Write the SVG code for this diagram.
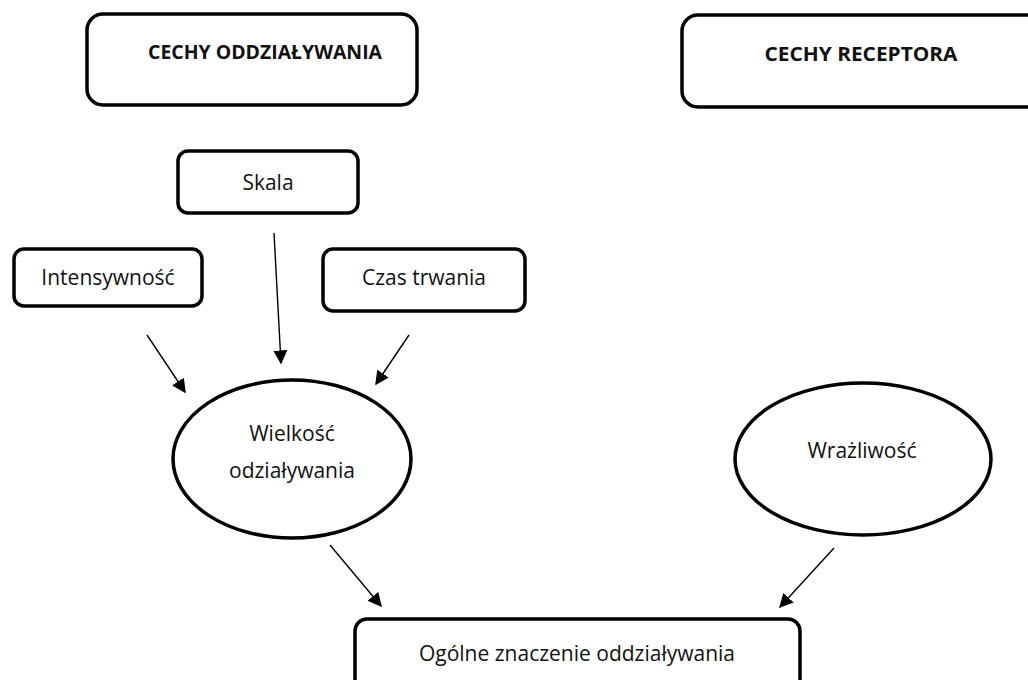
<svg xmlns="http://www.w3.org/2000/svg" width="1028" height="680" viewBox="0 0 1028 680">
<style>
.box{fill:#fff;stroke:#000;stroke-width:3.5}
.t{font-family:"Open Sans","Noto Sans",sans-serif;font-size:21px;fill:#111;text-anchor:middle}
.b{font-weight:bold;font-size:20px}
.c{stroke:#000;stroke-width:1.4;fill:none;marker-end:url(#ah)}
</style>
<defs>
<marker id="ah" viewBox="0 0 10 10" refX="9" refY="5" markerWidth="14" markerHeight="14" markerUnits="userSpaceOnUse" orient="auto">
<path d="M0,0 L10,5 L0,10 z" fill="#000"/>
</marker>
</defs>
<rect width="1028" height="680" fill="#fff"/>
<g id="cechy-oddzialywania">
<rect class="box" x="87" y="14" width="330" height="91" rx="16"/>
<text class="t b" x="265" y="59" textLength="234" lengthAdjust="spacingAndGlyphs">CECHY ODDZIAŁYWANIA</text>
</g>
<g id="cechy-receptora">
<rect class="box" x="682" y="15" width="380" height="92" rx="16"/>
<text class="t b" x="861" y="61" textLength="193" lengthAdjust="spacingAndGlyphs">CECHY RECEPTORA</text>
</g>
<g id="skala">
<rect class="box" x="178" y="151" width="180" height="62" rx="10"/>
<text class="t" x="268" y="190">Skala</text>
</g>
<g id="intensywnosc">
<rect class="box" x="14" y="249" width="188" height="57" rx="10"/>
<text class="t" x="108" y="285">Intensywność</text>
</g>
<g id="czas-trwania">
<rect class="box" x="323" y="249" width="202" height="62" rx="10"/>
<text class="t" x="424" y="285">Czas trwania</text>
</g>
<g id="wielkosc">
<ellipse class="box" cx="292" cy="459" rx="119" ry="79"/>
<text class="t" x="292" y="441">Wielkość</text>
<text class="t" x="292" y="478">odziaływania</text>
</g>
<g id="wrazliwosc">
<ellipse class="box" cx="863" cy="459" rx="128" ry="76"/>
<text class="t" x="862" y="458">Wrażliwość</text>
</g>
<g id="ogolne">
<rect class="box" x="355" y="619" width="445" height="80" rx="12"/>
<text class="t" x="577" y="661">Ogólne znaczenie oddziaływania</text>
</g>
<g id="connectors">
<line class="c" x1="147" y1="335" x2="185" y2="392"/>
<line class="c" x1="274" y1="233" x2="281" y2="363"/>
<line class="c" x1="409" y1="335" x2="376" y2="384"/>
<line class="c" x1="330" y1="545" x2="381" y2="606"/>
<line class="c" x1="834" y1="548" x2="780" y2="607"/>
</g>
</svg>
